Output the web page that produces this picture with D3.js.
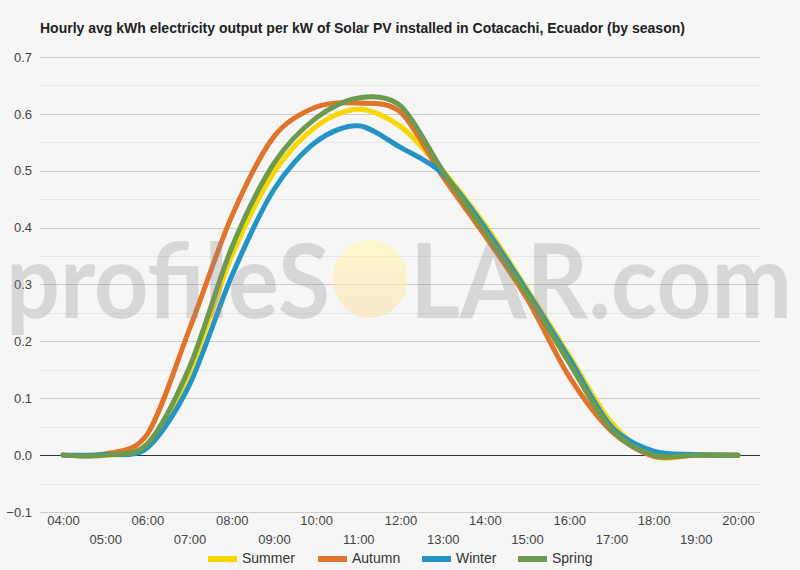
<!DOCTYPE html>
<html>
<head>
<meta charset="utf-8">
<script src="https://cdn.jsdelivr.net/npm/d3@7"></script>
<style>
  html, body { margin: 0; padding: 0; background: #f6f6f6; }
  svg { display: block; font-family: Arial, "Liberation Sans", sans-serif; }
</style>
</head>
<body>
<svg id="chart" width="800" height="570"></svg>
<script>
// ---- Data ----
const hours = [4, 5, 6, 7, 8, 9, 10, 11, 12, 13, 14, 15, 16, 17, 18, 19, 20];
const hourLabels = ["04:00","05:00","06:00","07:00","08:00","09:00","10:00","11:00","12:00","13:00","14:00","15:00","16:00","17:00","18:00","19:00","20:00"];
const summer = [0, 0, 0.018, 0.146, 0.350, 0.497, 0.578, 0.608, 0.578, 0.500, 0.405, 0.292, 0.175, 0.057, -0.002, 0, 0];
const autumn = [0, 0.002, 0.037, 0.222, 0.420, 0.560, 0.612, 0.619, 0.603, 0.490, 0.386, 0.275, 0.138, 0.042, -0.002, 0, 0];
const winter = [0, 0.001, 0.013, 0.124, 0.315, 0.467, 0.551, 0.579, 0.541, 0.495, 0.400, 0.288, 0.170, 0.050, 0.007, 0.001, 0];
const spring = [0, 0, 0.020, 0.155, 0.365, 0.513, 0.593, 0.628, 0.614, 0.500, 0.393, 0.283, 0.162, 0.045, 0, 0, 0];
const seriesNames = ["Summer", "Autumn", "Winter", "Spring"];
const seriesColors = ["#f9d700", "#e2732a", "#2394c6", "#6c9a4e"];
const yTicks = [-0.1, 0, 0.1, 0.2, 0.3, 0.4, 0.5, 0.6, 0.7];
const yMinorTicks = [-0.05, 0.05, 0.15, 0.25, 0.35, 0.45, 0.55, 0.65];
const title = "Hourly avg kWh electricity output per kW of Solar PV installed in Cotacachi, Ecuador (by season)";

const series = [summer, autumn, winter, spring];

const svg = d3.select("#chart");
svg.append("rect").attr("width", 800).attr("height", 570).attr("fill", "#f6f6f6");

const x = d3.scaleLinear().domain([4, 20]).range([63, 738]);
const y = d3.scaleLinear().domain([-0.1, 0.7]).range([512, 57]);
const gridX0 = 40, gridX1 = 760;

// Title
svg.append("text").attr("x", 40).attr("y", 33)
  .attr("font-size", 14).attr("font-weight", "bold").attr("fill", "#222")
  .text(title);

// Minor gridlines
svg.append("g").selectAll("line").data(yMinorTicks).join("line")
  .attr("x1", gridX0).attr("x2", gridX1)
  .attr("y1", d => Math.round(y(d)) + 0.5).attr("y2", d => Math.round(y(d)) + 0.5)
  .attr("stroke", "#e6e6e6").attr("stroke-width", 1);

// Major gridlines
svg.append("g").selectAll("line").data(yTicks).join("line")
  .attr("x1", gridX0).attr("x2", gridX1)
  .attr("y1", d => Math.round(y(d)) + 0.5).attr("y2", d => Math.round(y(d)) + 0.5)
  .attr("stroke", d => d === 0 ? "#333" : "#cccccc").attr("stroke-width", 1);

// Y axis labels
const yAxis = d3.axisLeft(y).tickValues(yTicks).tickFormat(d3.format(".1f")).tickSize(0).tickPadding(0);
const gy = svg.append("g").attr("transform", "translate(32,0)").call(yAxis);
gy.select(".domain").remove();
gy.selectAll("text").attr("font-size", 13).attr("fill", "#444").attr("font-family", "Arial, 'Liberation Sans', sans-serif");

// X axis labels (two staggered rows)
const xAxisEven = d3.axisBottom(x).tickValues(hours.filter((h, i) => i % 2 === 0))
  .tickFormat(h => hourLabels[hours.indexOf(h)]).tickSize(0).tickPadding(0);
const xAxisOdd = d3.axisBottom(x).tickValues(hours.filter((h, i) => i % 2 === 1))
  .tickFormat(h => hourLabels[hours.indexOf(h)]).tickSize(0).tickPadding(0);
const gx1 = svg.append("g").attr("transform", "translate(0,516)").call(xAxisEven);
const gx2 = svg.append("g").attr("transform", "translate(0,535)").call(xAxisOdd);
[gx1, gx2].forEach(g => {
  g.select(".domain").remove();
  g.selectAll("text").attr("font-size", 13).attr("fill", "#444").attr("font-family", "Arial, 'Liberation Sans', sans-serif");
});

// Lines
const line = d3.line().x((d, i) => x(hours[i])).y(d => y(d)).curve(d3.curveCardinal.tension(0.1));
svg.append("g").selectAll("path").data(series).join("path")
  .attr("d", d => line(d))
  .attr("fill", "none")
  .attr("stroke", (d, i) => seriesColors[i])
  .attr("stroke-width", 5)
  .attr("stroke-linecap", "round")
  .attr("stroke-linejoin", "round");

// Watermark (semi-transparent overlay)
const defs = svg.append("defs");
const grad = defs.append("linearGradient").attr("id", "sun").attr("x1", 0).attr("y1", 0).attr("x2", 0).attr("y2", 1);
grad.append("stop").attr("offset", "0%").attr("stop-color", "#fff9b0");
grad.append("stop").attr("offset", "100%").attr("stop-color", "#fbe2b0");
const wm = svg.append("g").attr("pointer-events", "none");
wm.append("ellipse").attr("cx", 370).attr("cy", 279).attr("rx", 37).attr("ry", 39)
  .attr("fill", "url(#sun)").attr("opacity", 0.6);
wm.append("text").attr("x", 6).attr("y", 318)
  .attr("font-family", "Lato, 'Open Sans', sans-serif").attr("font-weight", "bold")
  .attr("font-size", 104).attr("fill", "#8a8a8a").attr("opacity", 0.28)
  .attr("textLength", 324).attr("lengthAdjust", "spacingAndGlyphs")
  .text("profileS");
wm.append("text").attr("x", 410).attr("y", 318)
  .attr("font-family", "Lato, 'Open Sans', sans-serif").attr("font-weight", "bold")
  .attr("font-size", 104).attr("fill", "#8a8a8a").attr("opacity", 0.28)
  .attr("textLength", 382).attr("lengthAdjust", "spacingAndGlyphs")
  .text("LAR.com");

// Legend
const legendX = [208, 318, 422, 518];
const lg = svg.append("g");
seriesNames.forEach((name, i) => {
  lg.append("rect").attr("x", legendX[i]).attr("y", 556).attr("width", 29).attr("height", 6)
    .attr("fill", seriesColors[i]);
  lg.append("text").attr("x", legendX[i] + 34).attr("y", 563)
    .attr("font-size", 14).attr("fill", "#333").text(name);
});
</script>
</body>
</html>
